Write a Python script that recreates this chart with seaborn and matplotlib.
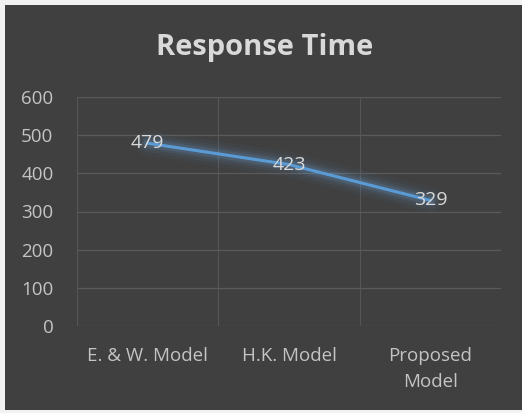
import matplotlib
matplotlib.use("Agg")
import matplotlib.pyplot as plt
from matplotlib.patches import Rectangle
import seaborn as sns
import pandas as pd

categories = ["E. & W. Model", "H.K. Model", "Proposed\nModel"]
response_time = [479, 423, 329]
y_ticks = [0, 100, 200, 300, 400, 500, 600]

df = pd.DataFrame({"model": categories, "time": response_time})

sns.set_theme(style="dark")
plt.rcParams["font.family"] = ["Open Sans", "DejaVu Sans"]

W, H = 522, 413
fig = plt.figure(figsize=(W / 100, H / 100), dpi=100, facecolor="#f2f2f2")

# dark chart area with a thin light frame on the left/top/bottom
fig.patches.append(Rectangle((5 / W, 3 / H), 1 - 5 / W, 1 - 8 / H,
                             transform=fig.transFigure, facecolor="#404040",
                             edgecolor="none", zorder=-5))

ax = fig.add_axes([77 / W, 1 - 326 / H, (501 - 77) / W, (326 - 97) / H])
ax.set_facecolor("#404040")

line_color = "#5b9bd5"
# soft glow under the line
for lw, a in [(18, 0.04), (13, 0.06), (9, 0.09), (6, 0.14)]:
    sns.lineplot(data=df, x="model", y="time", ax=ax, color="#6aa8e0",
                 linewidth=lw, alpha=a, sort=False, zorder=2,
                 solid_capstyle="round")
sns.lineplot(data=df, x="model", y="time", ax=ax, color=line_color,
             linewidth=2.2, sort=False, zorder=3)

ax.set_xlim(-0.5, 2.5)
ax.set_ylim(0, 600)
ax.set_yticks(y_ticks)
ax.set_xticks([-0.5, 0.5, 1.5, 2.5], minor=False)
ax.set_xticklabels([])
ax.set_xticks(range(len(categories)), minor=True)
ax.set_xticklabels(categories, minor=True, linespacing=1.6)
ax.tick_params(axis="x", which="both", length=0, pad=15,
               labelcolor="#c4c4c4", labelsize=13.5)
ax.tick_params(axis="y", length=0, pad=17, labelcolor="#c4c4c4", labelsize=13.5)

ax.grid(True, axis="y", which="major", color="#5a5a5a", linewidth=0.9)
ax.grid(True, axis="x", which="major", color="#555555", linewidth=0.8)
ax.set_axisbelow(True)
for s in ax.spines.values():
    s.set_visible(False)
ax.set_xlabel("")
ax.set_ylabel("")

for i, v in enumerate(response_time):
    ax.text(i, v, str(v), ha="center", va="center", color="#d9d9d9",
            fontsize=14, zorder=4)

fig.text(265 / W, 1 - 47 / H, "Response Time", ha="center", va="center",
         color="#d9d9d9", fontsize=21, fontweight="bold")

fig.savefig("out.png", dpi=100, facecolor=fig.get_facecolor())
